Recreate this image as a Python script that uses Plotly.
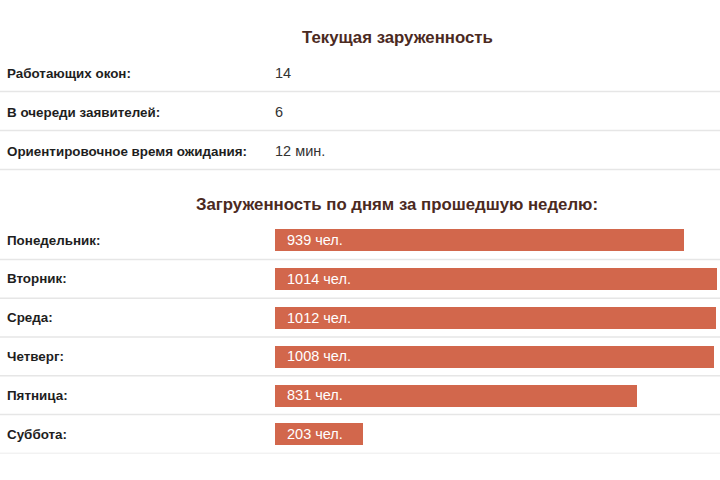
import plotly.graph_objects as go

# ---- data ----
current_title = "Текущая заруженность"
current_labels = ["Работающих окон:", "В очереди заявителей:", "Ориентировочное время ожидания:"]
current_values = ["14", "6", "12 мин."]

week_title = "Загруженность по дням за прошедшую неделю:"
days = ["Понедельник:", "Вторник:", "Среда:", "Четверг:", "Пятница:", "Суббота:"]
visitors = [939, 1014, 1012, 1008, 831, 203]
unit = "чел."

W, H = 720, 480
FONT = "Liberation Sans, Arial, sans-serif"
BAR = "#d2674c"
LINE = "#e6e6e6"
TITLE_C = "#4b2a1f"

def py(px):
    return 1 - px / H

fig = go.Figure()
fig.add_trace(go.Bar(
    x=visitors, y=days, orientation="h",
    marker=dict(color=BAR, line=dict(width=0)),
    width=0.57, hoverinfo="skip", showlegend=False,
))

ann = []
shapes = []
# titles
ann.append(dict(text=f"<b>{current_title}</b>", x=397 / W, y=py(38), xref="paper", yref="paper",
                showarrow=False, font=dict(family=FONT, size=16.8, color=TITLE_C), xanchor="center", yanchor="middle"))
ann.append(dict(text=f"<b>{week_title}</b>", x=397 / W, y=py(205), xref="paper", yref="paper",
                showarrow=False, font=dict(family=FONT, size=16.8, color=TITLE_C), xanchor="center", yanchor="middle"))

# upper table
row_h = 39
top_c = 73
for i, (lab, val) in enumerate(zip(current_labels, current_values)):
    yc = top_c + i * row_h
    ann.append(dict(text=f"<b>{lab}</b>", x=5 / W, y=py(yc), xref="paper", yref="paper", showarrow=False,
                    xanchor="left", yanchor="middle", font=dict(family=FONT, size=13.4, color="#1e1e1e")))
    ann.append(dict(text=val, x=273 / W, y=py(yc), xref="paper", yref="paper", showarrow=False,
                    xanchor="left", yanchor="middle", font=dict(family=FONT, size=14.5, color="#333333")))
    shapes.append(dict(type="line", xref="paper", yref="paper", x0=0, x1=1,
                       y0=py(yc + 18.5), y1=py(yc + 18.5), line=dict(color=LINE, width=1.5)))

# lower table
for i, (d, v) in enumerate(zip(days, visitors)):
    ann.append(dict(text=f"<b>{d}</b>", x=5 / W, y=d, xref="paper", yref="y", showarrow=False,
                    xanchor="left", yanchor="middle", font=dict(family=FONT, size=13.4, color="#1e1e1e")))
    ann.append(dict(text=f"{v} {unit}", x=0, y=d, xref="x", yref="y", showarrow=False, xshift=10,
                    xanchor="left", yanchor="middle", font=dict(family=FONT, size=14.5, color="white")))
    shapes.append(dict(type="line", xref="paper", yref="y", x0=0, x1=1,
                       y0=i + 0.5, y1=i + 0.5, line=dict(color=LINE, width=1.5), layer="below"))

top_px = 240 - 19.4
bot_px = 434 + 19.4
fig.update_layout(
    width=W, height=H,
    margin=dict(l=0, r=0, t=0, b=0),
    paper_bgcolor="white", plot_bgcolor="white",
    xaxis=dict(domain=[275 / W, 717 / W], range=[0, max(visitors)], visible=False, fixedrange=True),
    yaxis=dict(domain=[py(bot_px), py(top_px)], range=[len(days) - 0.5, -0.5], visible=False,
               type="category", categoryorder="array", categoryarray=days, fixedrange=True),
    annotations=ann, shapes=shapes, bargap=0,
)
fig.write_html("out.html", config={"displayModeBar": False},
               post_script="document.body.style.margin='0';document.body.style.overflow='hidden';")
